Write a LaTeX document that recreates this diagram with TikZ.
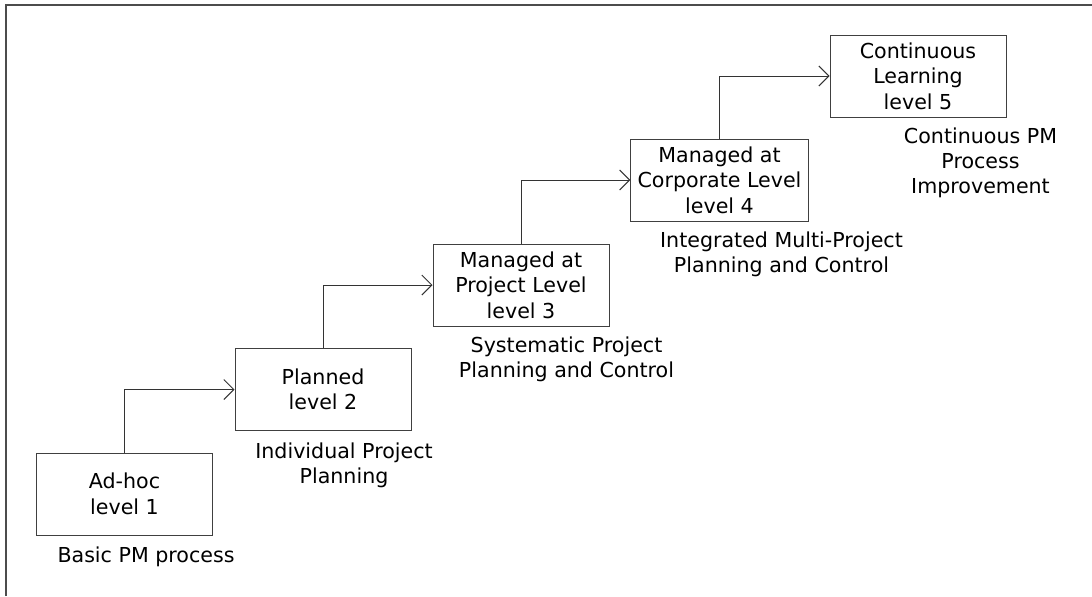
\documentclass[tikz,border=0pt]{standalone}
\usepackage{fontspec}
\setmainfont{DejaVu Sans}
\usetikzlibrary{arrows.meta}

\begin{document}
\begin{tikzpicture}[x=0.5pt,y=-0.5pt]
		\tikzstyle{lvl}=[draw,
			draw=black!75,
			line width=0.5pt,
			align=center,
			minimum width=88pt,
			minimum height=41pt,
			font=\fontsize{10.3}{12.8}\selectfont,
			];
		\tikzstyle{note}=[align=center,
			font=\fontsize{10.3}{12.4}\selectfont,
			];
		\tikzstyle{arr}=[draw=black!80,
			line width=0.5pt,
			-{Straight Barb[length=5pt,width=10pt]},
			];

		\useasboundingbox (0,0) rectangle (1092,596);
		\draw [black!70,line width=1pt] (6,596) -- (6,5) -- (1092,5);

		\node [lvl] (adhoc) at (124.5,494) {Ad-hoc\\level 1};
		\node [note] (adhoctxt) at (146,557) {Basic PM process};

		\node [lvl] (planned) at (323,389.5) {Planned\\level 2};
		\node [note] (plannedtxt) at (344,465) {Individual Project\\Planning};

		\node [lvl] (project) at (521,285) {Managed at\\Project Level\\level 3};
		\node [note] (projecttxt) at (566.5,359.5) {Systematic Project\\Planning and Control};

		\node [lvl] (corporate) at (719.5,180) {Managed at\\Corporate Level\\level 4};
		\node [note] (corporatetxt) at (781.5,254) {Integrated Multi-Project\\Planning and Control};

		\node [lvl] (learning) at (918,76) {Continuous\\Learning\\level 5};
		\node [note] (learningtxt) at (980.5,163) {Continuous PM\\Process\\Improvement};

		\draw [arr] (adhoc.north) |- (planned.west);
		\draw [arr] (planned.north) |- (project.west);
		\draw [arr] (project.north) |- (corporate.west);
		\draw [arr] (corporate.north) |- (learning.west);
	\end{tikzpicture}
\end{document}
